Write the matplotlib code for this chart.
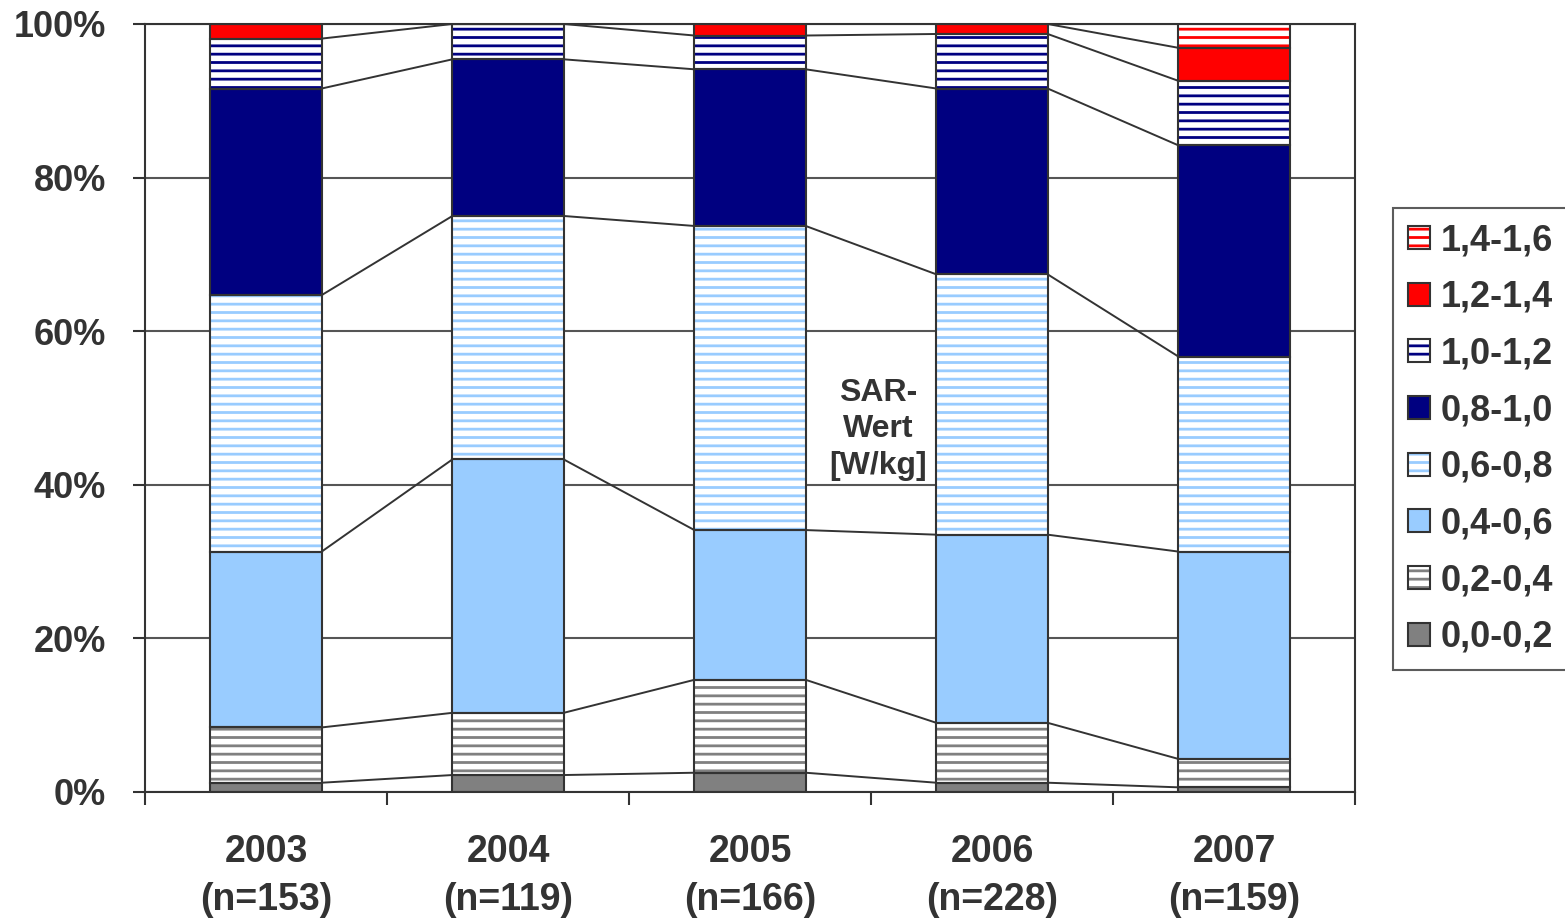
import matplotlib
matplotlib.use("Agg")
import matplotlib.pyplot as plt
from matplotlib.patches import Patch
from matplotlib.legend_handler import HandlerTuple
import numpy as np

years = ["2003", "2004", "2005", "2006", "2007"]
n_values = [153, 119, 166, 228, 159]
classes = ["0,0-0,2", "0,2-0,4", "0,4-0,6", "0,6-0,8",
           "0,8-1,0", "1,0-1,2", "1,2-1,4", "1,4-1,6"]

# share of devices per SAR class, in percent
s00 = [1.2, 2.2, 2.5, 1.2, 0.6]
s02 = [7.2, 8.1, 12.1, 7.8, 3.7]
s04 = [22.9, 33.0, 19.5, 24.5, 27.0]
s06 = [33.4, 31.7, 39.6, 33.9, 25.4]
s08 = [26.9, 20.4, 20.4, 24.2, 27.5]
s10 = [6.5, 4.6, 4.4, 7.1, 8.4]
s12 = [1.9, 0.0, 1.5, 1.3, 4.3]
s14 = [0.0, 0.0, 0.0, 0.0, 3.1]
series = [s00, s02, s04, s06, s08, s10, s12, s14]

# (color, hatched?)
styles = [("#808080", False), ("#808080", True), ("#99CCFF", False), ("#99CCFF", True),
          ("#000080", False), ("#000080", True), ("#FF0000", False), ("#FF0000", True)]

dark = "#333333"
plt.rcParams["hatch.linewidth"] = 2.0
plt.rcParams["font.family"] = ["Liberation Sans", "DejaVu Sans"]
plt.rcParams["font.weight"] = "bold"

fig = plt.figure(figsize=(15.65, 9.23), dpi=100)
ax = fig.add_axes([0.0927, 0.142, 0.7731, 0.832])

x = np.arange(len(years))
w = 0.46
bottom = np.zeros(len(years))
handles = []
tops = []
for vals, (col, hatched) in zip(series, styles):
    vals = np.array(vals)
    if hatched:
        ax.bar(x, vals, w, bottom=bottom, facecolor="white", edgecolor=col,
               hatch="--", linewidth=0, zorder=2)
    else:
        ax.bar(x, vals, w, bottom=bottom, facecolor=col, linewidth=0, zorder=2)
    ax.bar(x, vals, w, bottom=bottom, facecolor="none", edgecolor=dark,
           linewidth=1.5, zorder=3)
    bottom = bottom + vals
    tops.append(bottom.copy())
    if hatched:
        h = (Patch(facecolor="white", edgecolor=col, hatch="--", linewidth=0),
             Patch(facecolor="none", edgecolor=dark, linewidth=1.5))
    else:
        h = Patch(facecolor=col, edgecolor=dark, linewidth=1.5)
    handles.append(h)

# connector lines between neighbouring bars
for top in tops:
    for i in range(len(years) - 1):
        ax.plot([x[i] + w / 2, x[i + 1] - w / 2], [top[i], top[i + 1]],
                color=dark, linewidth=1.4, zorder=1)

ax.set_xlim(-0.5, len(years) - 0.5)
ax.set_ylim(0, 100)
ax.set_yticks(range(0, 101, 20))
ax.set_yticklabels([f"{v}%" for v in range(0, 101, 20)])
ax.yaxis.grid(True, color="#555555", linewidth=1.5)
ax.set_axisbelow(True)

ax.set_xticks(x)
ax.set_xticklabels([f"{y}\n(n={n})" for y, n in zip(years, n_values)],
                   fontsize=27, fontweight="bold", color=dark, linespacing=1.45)
ax.set_xticks(np.arange(-0.5, len(years)), minor=True)
ax.tick_params(axis="x", which="major", length=0, pad=30)
ax.tick_params(axis="x", which="minor", length=9, width=1.5, color=dark, direction="out")
ax.tick_params(axis="y", length=9, width=1.5, color=dark, pad=19,
               labelsize=26, labelcolor=dark)

for sp in ax.spines.values():
    sp.set_color(dark)
    sp.set_linewidth(1.5)

ax.text(2.53, 47.2, "SAR-\nWert\n[W/kg]", ha="center", va="center",
        fontsize=23, fontweight="bold", color=dark, linespacing=1.3)

leg = fig.legend(handles[::-1], classes[::-1], loc="upper left",
                 bbox_to_anchor=(0.890, 0.7746), bbox_transform=fig.transFigure,
                 borderaxespad=0, frameon=True, fancybox=False,
                 handler_map={tuple: HandlerTuple(ndivide=1)},
                 prop={"size": 26, "weight": "bold"}, labelcolor=dark,
                 handlelength=0.6, handleheight=0.6, handletextpad=0.3,
                 labelspacing=0.6, borderpad=0.42)
leg.get_frame().set_edgecolor(dark)
leg.get_frame().set_linewidth(1.5)

fig.savefig("out.png", dpi=100)
